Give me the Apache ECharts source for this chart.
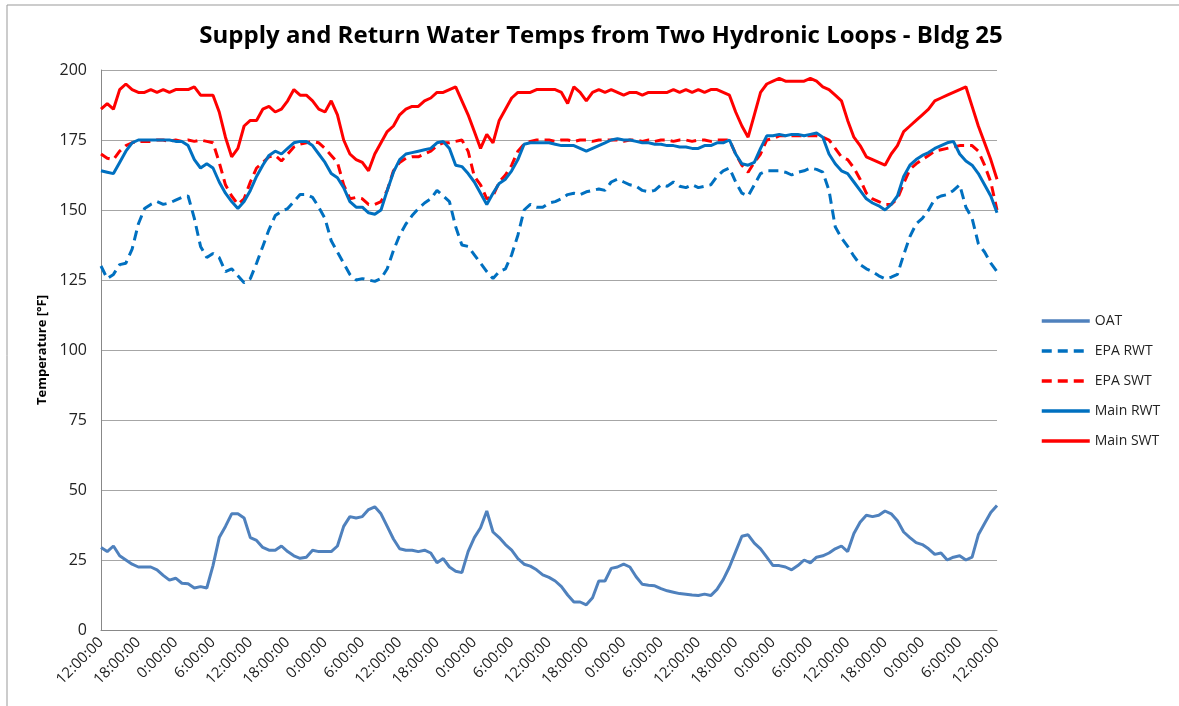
<!DOCTYPE html>
<html><head><meta charset="utf-8">
<script src="https://cdn.jsdelivr.net/npm/echarts@6/dist/echarts.min.js"></script>
<style>html,body{margin:0;padding:0;background:#fff}#c{width:1179px;height:706px}</style>
</head><body><div id="c"></div>
<script>
const tickLabels = ['12:00:00','18:00:00','0:00:00','6:00:00','12:00:00','18:00:00','0:00:00','6:00:00',
  '12:00:00','18:00:00','0:00:00','6:00:00','12:00:00','18:00:00','0:00:00','6:00:00',
  '12:00:00','18:00:00','0:00:00','6:00:00','12:00:00','18:00:00','0:00:00','6:00:00','12:00:00'];

const oat = [29.5,28,30,26.5,25,23.5,22.5,22.5,22.5,21.5,19.5,17.8,
  18.5,16.7,16.5,15,15.5,15,23,33,37,41.5,41.5,40,
  33,32,29.5,28.5,28.5,30,28,26.5,25.6,26,28.5,28,
  28,28,30,37,40.5,40,40.5,43,44,41.5,37,32.5,
  29,28.5,28.5,28,28.5,27.5,24,25.5,22.5,21,20.5,28,
  33,36.5,42.5,35,33,30.5,28.5,25.5,23.5,22.8,21.5,19.7,
  18.8,17.5,15.5,12.5,10,10,9,11.5,17.5,17.5,22,22.5,
  23.5,22.5,19,16.3,16,15.8,14.8,14,13.5,13,12.8,12.5,
  12.3,12.8,12.3,14.5,18,22.5,28,33.5,34,31,29,26,
  23,23,22.5,21.5,23,25,24,26,26.5,27.5,29,30,
  28,34.5,38.5,41,40.5,41,42.5,41.5,39,35,33,31.2,
  30.5,29,27,27.5,25,26,26.5,25,26,34,38,42,
  44.5];

const epaRWT = [130,125.5,127,130.5,131,136,145,150.5,152,153,152,152.5,
  153.5,154.5,155,147,137,133,134.5,133,128,129,126.5,124,
  125.5,131,137,143,148,149.5,150.5,153,155.5,155.5,154.5,151,
  147,139,135,131,127,125,125.5,125,124.5,125.5,129,135.5,
  141,145,148,150.5,152.5,154,157,155,153,144,137.5,137,
  134,131,128,125.5,128,129,134,141,150,152,151,151,
  152.5,153,154,155.5,156,155.5,156.5,157,157.5,157,160,161,
  160,159,158.5,157,156.5,157,159,158.5,160,158.5,158,159,
  158,158.5,159,162,164,165,160,156,155,159,163,164,
  164,164,163.5,162.5,163.5,164,165,164.5,163.5,157,144,140,
  137,133.5,130.5,129,128,126.5,125.5,126,127,134,140.5,145,
  147,150,154,155,155.5,157,159,151,147,138,135,131,
  128];

const epaSWT = [170,168.5,168,171,173,174,174.5,174.5,174.5,175,175,174.5,
  175,174.5,175,174.5,175,174.5,174,167,159,155,152,154,
  160,165,167,169,169.5,167.5,170,172.5,173.5,174,174.5,174,
  172,169.5,167,159,154,154.5,154,152,152,153,157,164,
  167,168.5,169,169,170,171,173,174,174,174.5,175,171,
  162,159,154,155,160,162.5,166,171,173.5,174.5,175,175,
  175,174.5,175,175,174.5,175,175,174.5,175,175,175,175,
  174.5,175,175,174.5,175,174.5,175,175,174.5,175,175,174.5,
  175,175,174.5,175,175,175,170,166,163.5,167,170,175,
  175.5,176.5,176.5,176.5,176.5,176.5,176.5,176.5,176,175,172,169,
  168,165,161,156,154,153,152,152,154,159.5,164.5,166.5,
  168,169.5,171,171.5,172,172.5,173,173,173,171,166,160,
  150];

const mainRWT = [164,163.5,163,167,171,174,175,175,175,175,175,175,
  174.5,174.5,173,168,165,166.5,165,160,156,153,150.5,153,
  157,162,166,169.5,171,170,172,174,174.5,174.5,173,170,
  167,163,161.5,158,153,151,151,149,148.5,150,157,163.5,
  168,170,170.5,171,171.5,172,174,174.5,172,166,165.5,163,
  160,156,152,156,159.5,161,164,168,173.5,174,174,174,
  174,173.5,173,173,173,172,171,172,173,174,175,175.5,
  175,175,174.5,174,174,173.5,173.5,173,173,172.5,172.5,172,
  172,173,173,174,174,175,170,166.5,166,167,172,176.5,
  176.5,177,176.5,177,177,176.5,177,177.5,176,170,166.5,164,
  163,160,157,154,152.5,151.5,150,152,155,162,166,168,
  169.5,170.5,172,173,174,174.5,170,167.5,166,163,159,155,
  149];

const mainSWT = [186,188,186,193,195,193,192,192,193,192,193,192,
  193,193,193,194,191,191,191,185,176,169,172,180,
  182,182,186,187,185,186,189,193,191,191,189,186,
  185,189,184,175,170,168,167,164,170,174,178,180,
  184,186,187,187,189,190,192,192,193,194,189,184,
  178,172,177,174,182,186,190,192,192,192,193,193,
  193,193,192,188,194,192,189,192,193,192,193,192,
  191,192,192,191,192,192,192,192,193,192,193,192,
  193,192,193,193,192,191,185,180,176,184,192,195,
  196,197,196,196,196,196,197,196,194,193,191,189,
  182,176,173,169,168,167,166,170,173,178,180,182,
  184,186,189,190,191,192,193,194,187,180,174,168,
  161];

const seriesNames = ['OAT','EPA RWT','EPA SWT','Main RWT','Main SWT'];
const yTicks = [0,25,50,75,100,125,150,175,200];

const categories = oat.map((v, i) => (i % 6 === 0 ? tickLabels[i / 6] : ''));

const FONT = '"Open Sans", "Noto Sans", sans-serif';
function mk(name, data, color, dashed) {
  return {
    name, type: 'line', data, showSymbol: false, symbol: 'none',
    lineStyle: { color, width: 3, type: dashed ? [10, 6] : 'solid' },
    itemStyle: { color }, animation: false
  };
}

const chart = echarts.init(document.getElementById('c'), null, { renderer: 'canvas' });
chart.setOption({
  backgroundColor: '#fff',
  animation: false,
  title: {
    text: 'Supply and Return Water Temps from Two Hydronic Loops - Bldg 25',
    left: 596, top: 19, textAlign: 'center',
    textStyle: { fontFamily: FONT, fontWeight: 'bold', fontSize: 24, color: '#000' }
  },
  legend: {
    orient: 'vertical', left: 1035, top: 309,
    itemWidth: 48, itemHeight: 14, itemGap: 16,
    data: seriesNames,
    itemStyle: { opacity: 0 },
    lineStyle: { width: 3.5 },
    textStyle: { fontFamily: FONT, fontSize: 14, color: '#222' }
  },
  grid: { left: 101, right: 182, top: 70, bottom: 76, containLabel: false },
  xAxis: {
    type: 'category', data: categories, boundaryGap: false,
    axisLine: { lineStyle: { color: '#888', width: 1 } },
    axisTick: { show: false },
    axisLabel: { interval: 5, rotate: 45, margin: 10, fontFamily: FONT, fontSize: 15, color: '#222' },
    splitLine: { show: false }
  },
  yAxis: {
    type: 'value', min: yTicks[0], max: yTicks[yTicks.length - 1], interval: 25,
    name: 'Temperature [°F]', nameLocation: 'middle', nameGap: 51,
    nameTextStyle: { fontFamily: FONT, fontWeight: 'bold', fontSize: 13, color: '#000' },
    axisLine: { show: true, lineStyle: { color: '#888', width: 1 } },
    axisTick: { show: false },
    axisLabel: { margin: 14, fontFamily: FONT, fontSize: 16, color: '#222' },
    splitLine: { lineStyle: { color: '#a6a6a6', width: 1 } }
  },
  graphic: [
    { type: 'line', shape: { x1: 7, y1: 5, x2: 1179, y2: 5 }, style: { stroke: '#999', lineWidth: 1 } },
    { type: 'line', shape: { x1: 7, y1: 5, x2: 7, y2: 706 }, style: { stroke: '#999', lineWidth: 1 } }
  ],
  series: [
    mk(seriesNames[0], oat, '#4F81BD', false),
    mk(seriesNames[1], epaRWT, '#0070C0', true),
    mk(seriesNames[2], epaSWT, '#FF0000', true),
    mk(seriesNames[3], mainRWT, '#0070C0', false),
    mk(seriesNames[4], mainSWT, '#FF0000', false)
  ]
});
</script></body></html>
